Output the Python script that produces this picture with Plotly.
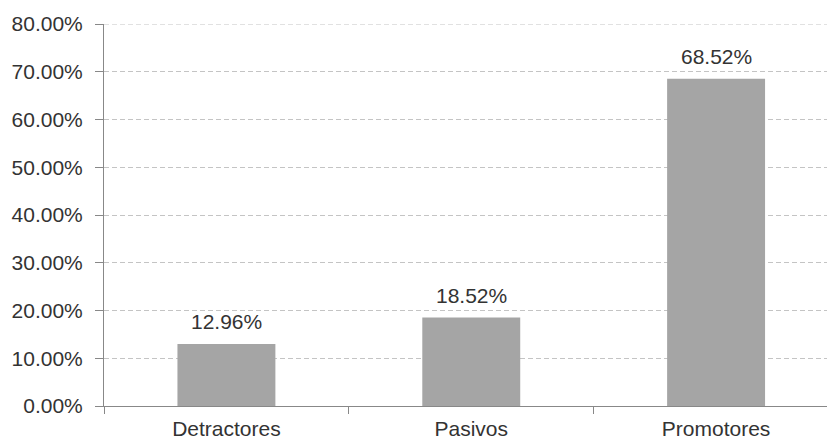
import plotly.graph_objects as go

categories = ["Detractores", "Pasivos", "Promotores"]
values = [0.1296, 0.1852, 0.6852]
y_max = 0.8
bar_color = "#a5a5a5"
FONT = "Liberation Sans, Arial"
TXT = "#333333"
GRID = "#c4c4c4"

fig = go.Figure()
fig.add_trace(go.Bar(
    x=categories, y=values, width=0.4,
    marker=dict(color=bar_color, line=dict(width=0)),
    hoverinfo="skip",
))
for c, v in zip(categories, values):
    fig.add_annotation(x=c, y=v, text=f"{v*100:.2f}%", showarrow=False,
                       yanchor="bottom", yshift=9,
                       font=dict(family=FONT, size=21, color=TXT))

# top gridline at the range edge (plotly hides it there)
fig.add_shape(type="line", xref="paper", x0=0, x1=1, yref="y", y0=y_max, y1=y_max,
              line=dict(color=GRID, width=1, dash="5px,3px"), layer="below")

fig.update_layout(
    width=827, height=439,
    margin=dict(l=104, r=0, t=24, b=33),
    paper_bgcolor="white", plot_bgcolor="white",
    showlegend=False,
    font=dict(family=FONT, size=21, color=TXT),
)
fig.update_xaxes(
    range=[-0.5, 2.453], showline=True, linecolor="#888", linewidth=1,
    ticks="outside", tickson="boundaries", ticklen=7, tickcolor="#888",
    ticklabelstandoff=4,
    showgrid=False, zeroline=False, fixedrange=True,
)
fig.update_yaxes(
    range=[0, y_max], dtick=0.1, tickformat=".2%",
    showline=True, linecolor="#888", linewidth=1,
    ticks="outside", ticklen=8, tickcolor="#888",
    ticklabelstandoff=8,
    showgrid=True, gridcolor=GRID, griddash="5px,3px", gridwidth=1,
    zeroline=False, fixedrange=True,
)
fig.write_html("out.html")
